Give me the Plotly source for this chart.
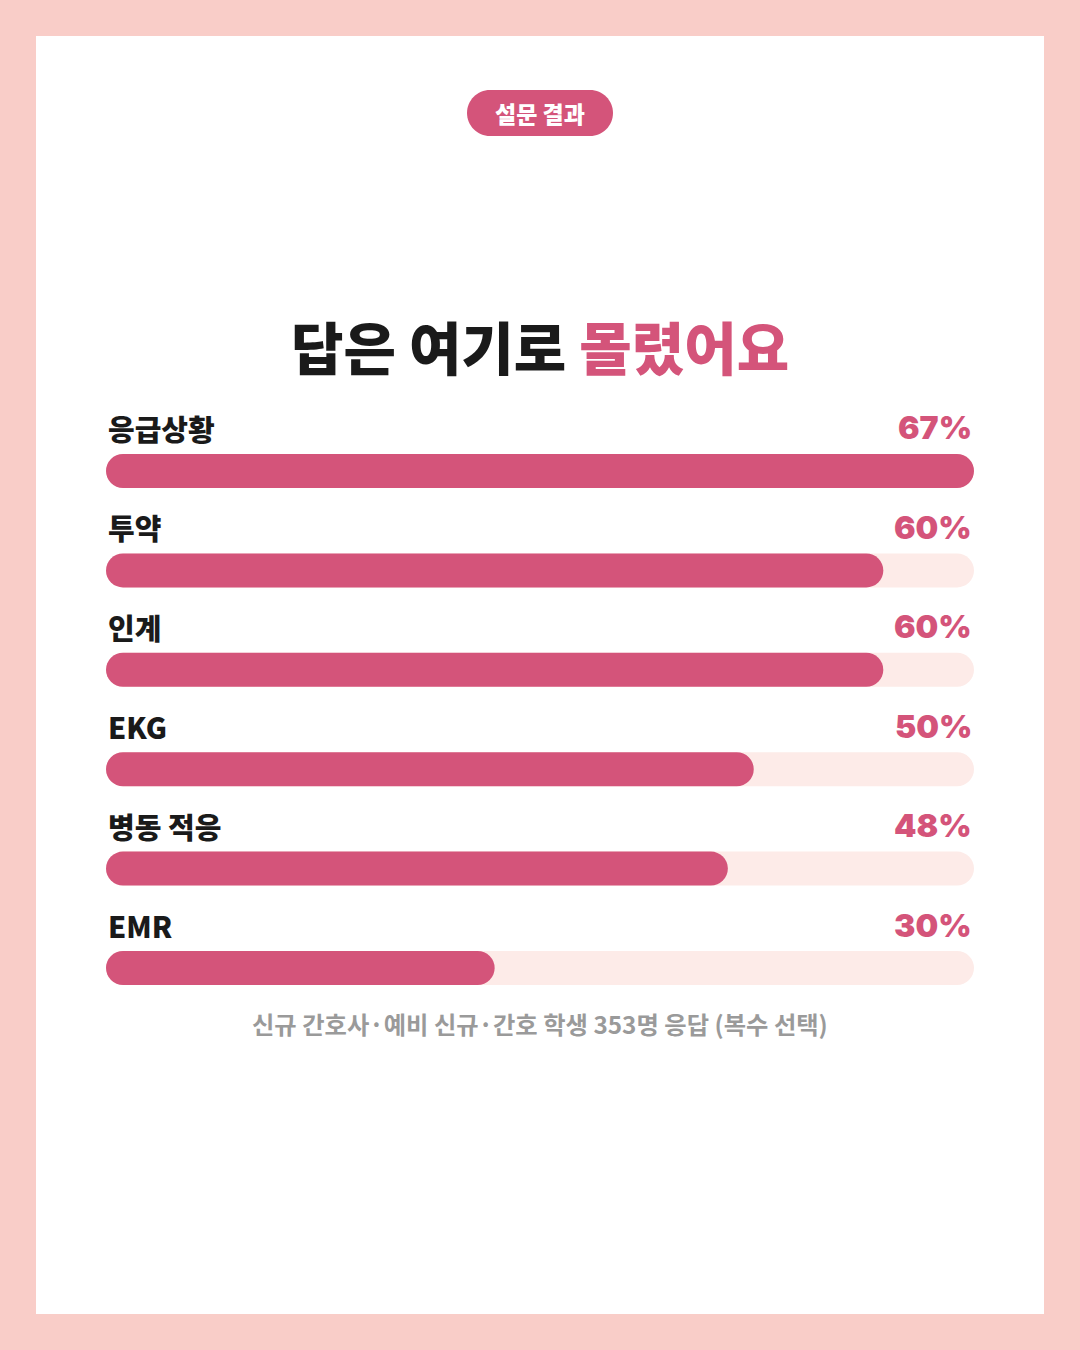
import plotly.graph_objects as go

# ---- data ----
categories = ["응급상황", "투약", "인계", "EKG", "병동 적응", "EMR"]
values = [67, 60, 60, 50, 48, 30]
value_labels = ["67%", "60%", "60%", "50%", "48%", "30%"]
scale_max = 67

badge_text = "설문 결과"
title_dark = "답은 여기로 "
title_pink = "몰렸어요"
footnote = "신규 간호사·예비 신규·간호 학생 353명 응답 (복수 선택)"

# ---- style ----
W, H = 1080, 1350
PINK = "#D4547A"
TRACK = "#FDEBE8"
BORDER = "#F9CDC8"
KR = "Noto Sans CJK KR"

def px(x):
    return x / W

def py(y):
    return 1 - y / H

fig = go.Figure()

bar_w = 0.342
radius = 17

def add_rounded(vals, color):
    fig.add_trace(go.Bar(
        orientation="h", y=categories, x=vals, base=[0] * len(vals),
        width=bar_w, marker=dict(color=color, cornerradius=radius, line=dict(width=0)),
        hoverinfo="skip", showlegend=False))

add_rounded([scale_max] * len(categories), TRACK)
add_rounded(values, PINK)

annotations = []
for c, lab in zip(categories, value_labels):
    annotations.append(dict(
        x=0, y=c, xref="x", yref="y", xanchor="left", yanchor="middle",
        yshift=43, text=c, showarrow=False,
        font=dict(family=KR, size=29, color="#1A1A1A", weight=900)))
    annotations.append(dict(
        x=scale_max, y=c, xref="x", yref="y", xanchor="right", yanchor="middle",
        yshift=43, xshift=0, text=lab, showarrow=False,
        font=dict(family="Inter", size=32, color=PINK, weight=900)))

# title
annotations.append(dict(
    x=0.5, y=py(345), xref="paper", yref="paper", xanchor="center", yanchor="middle",
    text=f"{title_dark}<span style='color:{PINK}'>{title_pink}</span>", showarrow=False,
    font=dict(family=KR, size=57, color="#1A1A1A", weight=900)))
# badge text
annotations.append(dict(
    x=0.5, y=py(113), xref="paper", yref="paper", xanchor="center", yanchor="middle",
    text=badge_text, showarrow=False,
    font=dict(family=KR, size=23, color="white", weight=900)))
# footnote
annotations.append(dict(
    x=0.5, y=py(1023), xref="paper", yref="paper", xanchor="center", yanchor="middle",
    text=footnote, showarrow=False,
    font=dict(family=KR, size=24.3, color="#9A9A9A", weight=700)))

# pill path for badge
cx, cy, bw, bh = 540, 113, 146, 46
r = bh / 2
k = 0.5523 * r
x0, x1 = cx - bw / 2, cx + bw / 2
y0, y1 = cy - r, cy + r
pts = [
    f"M {px(x0 + r)},{py(y0)}",
    f"L {px(x1 - r)},{py(y0)}",
    f"C {px(x1 - r + k)},{py(y0)} {px(x1)},{py(cy - k)} {px(x1)},{py(cy)}",
    f"C {px(x1)},{py(cy + k)} {px(x1 - r + k)},{py(y1)} {px(x1 - r)},{py(y1)}",
    f"L {px(x0 + r)},{py(y1)}",
    f"C {px(x0 + r - k)},{py(y1)} {px(x0)},{py(cy + k)} {px(x0)},{py(cy)}",
    f"C {px(x0)},{py(cy - k)} {px(x0 + r - k)},{py(y0)} {px(x0 + r)},{py(y0)}",
    "Z",
]
shapes = [
    dict(type="rect", xref="paper", yref="paper", x0=px(36), x1=px(1044), y0=py(1314), y1=py(36),
         fillcolor="white", line=dict(width=0), layer="below"),
    dict(type="path", xref="paper", yref="paper", path=" ".join(pts),
         fillcolor=PINK, line=dict(width=0), layer="below"),
]

row_top = 471 - 99.4 / 2
row_bot = 968 + 99.4 / 2

fig.update_layout(
    width=W, height=H,
    margin=dict(l=0, r=0, t=0, b=0),
    paper_bgcolor=BORDER, plot_bgcolor="rgba(0,0,0,0)",
    barmode="overlay",
    xaxis=dict(domain=[px(106), px(974)], range=[0, scale_max], visible=False, fixedrange=True),
    yaxis=dict(domain=[py(row_bot), py(row_top)], categoryorder="array", categoryarray=categories,
               range=[len(categories) - 0.5, -0.5], visible=False, fixedrange=True),
    annotations=annotations, shapes=shapes,
    showlegend=False,
)

fig.write_html("out.html", config={"displayModeBar": False},
               post_script="document.body.style.margin='0';")
